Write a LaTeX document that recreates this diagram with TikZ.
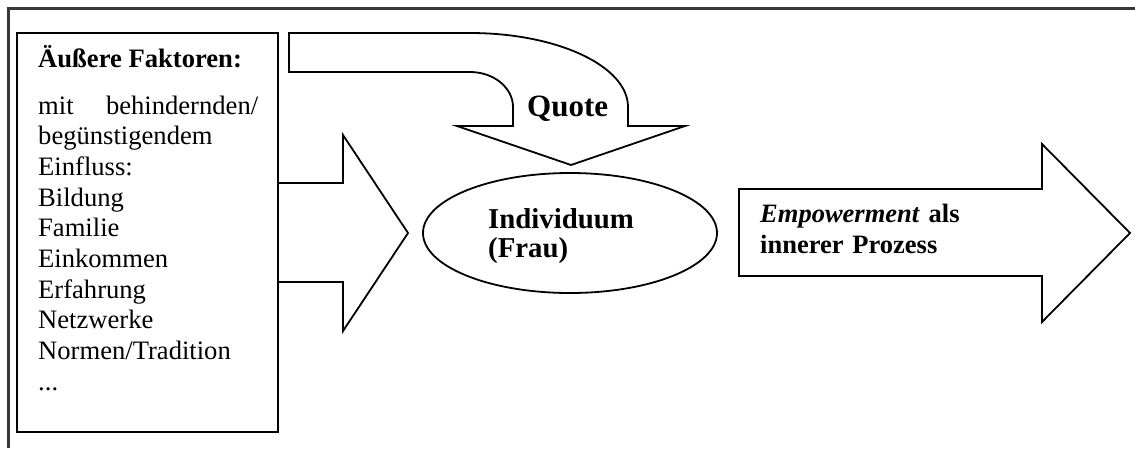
\documentclass[tikz,border=0pt]{standalone}
\usepackage{fontspec}
\setmainfont{Liberation Serif}
\usetikzlibrary{shapes.geometric}
\begin{document}
\begin{tikzpicture}[x=1pt,y=-1pt,
  shape line/.style={draw=black, line width=1.8pt, line join=miter, outer sep=0pt},
  frame line/.style={draw=black!78, line width=2.4pt},
  body text/.style={font=\fontsize{26.6}{30.7}\selectfont, inner sep=0pt},
  bold text/.style={font=\fontsize{26.5}{31}\selectfont\bfseries, inner sep=0pt}]
\useasboundingbox (0,0) rectangle (1135,448);
\fill[white] (0,0) rectangle (1135,448);

% outer frame (top and left edges)
\draw[frame line] (8.5,448) -- (8.5,8.5) -- (1135,8.5);

% box of outer factors
\node[shape line, rectangle, minimum width=261pt, minimum height=399pt,
      anchor=north west, inner sep=0pt] (factors) at (17,33) {};
\node[body text, font=\fontsize{26.6}{30.7}\selectfont\bfseries, anchor=base west] (factorshead) at (38,67) {Äußere Faktoren:};
\node[body text, anchor=base west, text width=220pt, align=left] (factorslist) at (38,114)
  {mit\hfill behindernden/\\
   begünstigendem\\
   Einfluss:\\
   Bildung\\
   Familie\\
   Einkommen\\
   Erfahrung\\
   Netzwerke\\
   Normen/Tradition\\
   ...};

% block arrow from the factors to the individual
\draw[shape line] (factors.east |- 0,183) -- (343,183) -- (343,135) -- (408,233)
  -- (343,331) -- (343,282) -- (factors.east |- 0,282);

% curved quota arrow
\draw[shape line] (289,33) -- (470,33) .. controls (557.3,33) and (628,66.1) .. (628,107)
  -- (628,126) -- (685,126) -- (571,165) -- (457,126) -- (513,126) -- (513,107)
  .. controls (513,87.7) and (493.7,72) .. (470,72) -- (289,72) -- cycle;
\node[inner sep=0pt, font=\fontsize{31}{34}\selectfont\bfseries, anchor=base west] (quota) at (527,116) {Quote};

% the individual
\node[shape line, ellipse, minimum width=294pt, minimum height=120pt, inner sep=0pt] (woman) at (570,233) {};
\node[inner sep=0pt, anchor=base west, text width=160pt, align=left,
      font=\fontsize{28.8}{29}\selectfont\bfseries] (womanlabel) at (488,228)
  {Individuum\\(Frau)};

% empowerment arrow
\draw[shape line] (739,189) -- (1042,189) -- (1042,144) -- (1130,233) -- (1042,322)
  -- (1042,276) -- (739,276) -- cycle;
\node[bold text, anchor=base west, text width=270pt, align=left] (process) at (760,222)
  {\textit{Empowerment} als\\innerer Prozess};
\end{tikzpicture}
\end{document}
